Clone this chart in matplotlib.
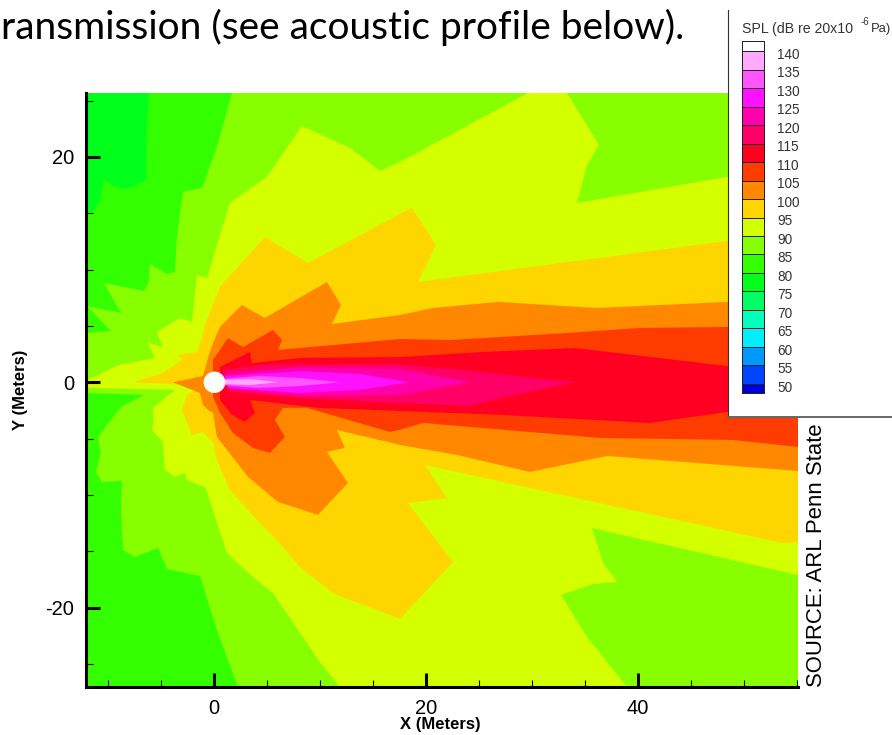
import matplotlib
matplotlib.use("Agg")
import matplotlib.pyplot as plt
from matplotlib.colors import ListedColormap, BoundaryNorm
from matplotlib.patches import Ellipse

plt.rcParams['font.family'] = ['Liberation Sans', 'DejaVu Sans']
plt.rcParams['axes.unicode_minus'] = False

# SPL legend
spl_edges = [47.5, 50, 55, 60, 65, 70, 75, 80, 85, 90, 95, 100, 105, 110, 115,
             120, 125, 130, 135, 140, 142.7]
spl_colors = ['#0000dd', '#0044ff', '#0099ff', '#00eeff', '#00ffbb', '#00ff66',
              '#00ff1a', '#33ff00', '#88ff00', '#d4ff00', '#ffd500', '#ff8800',
              '#ff3c00', '#ff0022', '#ff0066', '#ff00aa', '#ff11ff', '#ff55ff',
              '#ffaaff', '#ffffff']
spl_labels = [50, 55, 60, 65, 70, 75, 80, 85, 90, 95, 100, 105, 110, 115, 120,
              125, 130, 135, 140]

# Contour bands in metres, each outline holds everything louder than its level
band_75_x = [-12.07, -6.13, -6.32, -6.42, -7.64, -8.58, -9.62, -10.38, -10.75, -11.42, -12.07]
band_75_y = [25.67, 25.67, 23.0, 17.95, 17.33, 17.15, 17.5, 17.95, 16.17, 15.11, 14.85]

band_85_x = [1.7, 0.28, -1.13, -2.92, -3.49, -3.68, -4.43, -6.04, -6.13, -6.6, -10.38, -8.77,
             -11.98, -9.72, -12.07, -12.07, -6.6, -8.77, -10.09, -10.94, -10.66, -11.13,
             -10.57, -8.68, -8.77, -8.58, -7.45, -5.28, -4.43, -1.32, 0.28, 2.26, 55.1, 55.1]
band_85_y = [25.67, 20.88, 17.24, 16.9, 12.89, 9.79, 9.61, 10.5, 8.9, 8.1, 8.81, 6.15,
             6.77, 4.55, 4.37, -0.95, -1.12, -2.19, -3.79, -4.94, -6.18, -7.96,
             -8.85, -8.76, -11.6, -14.88, -15.5, -14.7, -16.57, -17.19, -21.98, -27.04, -27.04, 25.67]

band_90_x = [-11.98, -8.96, -5.57, -6.23, -4.81, -5.38, -3.21, -2.08, -1.6, -0.66, 1.51, 5.0,
             8.3, 12.83, 15.66, 17.55, 29.62, 33.3, 36.32, 35.19, 34.25, 48.4, 55.1,
             55.1, 35.66, 36.7, 38.02, 35.75, 32.74, 35.19, 38.96, 11.89, 10.0, 5.57, 3.68,
             1.23, -0.57, -0.85, -2.55, -2.74, -3.68, -4.62, -4.81, -5.85, -5.66, -5.75,
             -3.68, -11.98]
band_90_y = [0.2, 1.54, 2.16, 3.49, 3.13, 4.46, 5.71, 5.35, 9.52, 9.25, 15.91, 18.22,
             22.74, 20.79, 18.75, 19.55, 25.67, 25.67, 21.06, 19.28, 15.91, 18.22, 19.73,
             -17.1, -12.93, -16.03, -17.72, -17.9, -18.87, -22.6, -27.04, -27.04, -24.82, -18.7, -17.28,
             -15.15, -10.0, -9.29, -8.67, -8.05, -8.4, -7.78, -5.3, -4.23, -3.35, -2.28,
             -0.68, -0.5]

band_95_x = [-7.55, -4.81, -3.02, -3.4, -1.6, -1.04, -0.85, 0.57, 4.81, 8.87, 17.55, 18.68,
             20.94, 19.25, 48.4, 55.1, 55.1, 53.68, 19.91, 21.98, 18.3, 22.55, 17.55, 12.83,
             11.23, 8.11, 5.94, 4.06, 1.51, 0.28, -0.09, -1.04, -2.08, -2.55, -3.02, -2.55,
             -1.42, -3.96]
band_95_y = [0, 0.83, 1.98, 2.42, 2.69, 4.2, 5.08, 8.46, 12.89, 10.59, 14.93, 15.47,
             12.18, 8.9, 12.54, 13.34, -14.17, -14.26, -7.34, -10.27, -10.71, -15.95, -21.0, -19.32,
             -18.7, -16.39, -13.99, -12.22, -9.56, -6.89, -5.38, -4.41, -4.68, -3.61, -2.46, -1.13,
             -0.51, -0.15]

band_100_x = [-3.87, -1.04, -0.47, -0.09, 0.57, 2.64, 4.81, 10.66, 11.98, 11.13, 17.55, 20.66,
              26.79, 36.13, 48.4, 55.1, 55.1, 37.08, 29.81, 22.92, 17.55, 11.6, 12.36, 10.66,
              12.64, 9.81, 6.04, 3.21, 0.28, -0.09, -0.57, -1.04, -1.32]
band_100_y = [0, 0.56, 2.42, 3.49, 4.91, 6.86, 5.71, 8.9, 6.86, 5.17, 5.97, 6.59,
              7.13, 6.59, 7.13, 7.48, -7.87, -6.54, -7.96, -6.45, -5.56, -4.23, -5.83, -6.18,
              -8.93, -11.77, -10.62, -8.4, -4.85, -2.72, -2.46, -2.0, -0.95]

band_105_x = [-0.09, 1.32, 2.74, 5.57, 6.42, 6.04, 17.55, 22.26, 33.3, 40.19, 48.4, 55.1,
              55.1, 48.96, 36.42, 19.72, 17.55, 16.6, 8.77, 6.51, 5.75, 6.7, 5.28, 3.68,
              1.79, 0.57, -0.09]
band_105_y = [1.98, 3.93, 3.13, 4.64, 3.75, 2.87, 3.84, 3.75, 4.37, 4.82, 4.91, 5.08,
              -5.74, -5.12, -4.94, -3.61, -4.22, -4.41, -2.27, -2.27, -3.34, -4.85, -6.27, -5.83,
              -4.5, -2.72, -1.3]

band_110_x = [0.57, 3.4, 3.58, 8.11, 17.55, 25.38, 34.06, 48.4, 55.1, 55.1, 48.4, 41.13,
              26.98, 17.55, 9.72, 3.4, 3.87, 2.92, 1.7, 0.57]
band_110_y = [1.36, 2.69, 1.71, 2.16, 2.24, 2.69, 3.04, 1.45, 0.65, -2.0, -2.64, -3.61,
              -2.89, -2.55, -2.27, -1.57, -2.72, -3.52, -2.89, -1.57]

band_115_x = [0.75, 5.0, 17.55, 25.09, 34.06, 26.98, 24.15, 17.55, 8.11, 1.51]
band_115_y = [1.09, 1.54, 1.62, 0.91, 0, -1.39, -2.1, -1.84, -1.39, -0.86]

band_120_x = [1.04, 8.11, 17.55, 24.15, 17.55, 8.11, 1.51]
band_120_y = [0.74, 1.36, 1.18, 0, -1.13, -1.21, -0.59]

band_125_x = [1.04, 8.11, 13.77, 18.49, 13.77, 8.11, 1.32]
band_125_y = [0.56, 1.0, 0.74, 0, -0.68, -0.95, -0.51]

band_130_x = [0.75, 4.34, 8.11, 11.89, 8.11, 4.34, 0.75]
band_130_y = [0.29, 0.56, 0.38, 0, -0.33, -0.51, -0.24]

band_135_x = [0.57, 3.4, 6.04, 3.4, 0.57]
band_135_y = [0.2, 0.29, 0, -0.24, -0.15]

bands = [
    (band_75_x, band_75_y, '#00ff1a'),
    (band_85_x, band_85_y, '#88ff00'),
    (band_90_x, band_90_y, '#d4ff00'),
    (band_95_x, band_95_y, '#ffd500'),
    (band_100_x, band_100_y, '#ff8800'),
    (band_105_x, band_105_y, '#ff3c00'),
    (band_110_x, band_110_y, '#ff0022'),
    (band_115_x, band_115_y, '#ff0066'),
    (band_120_x, band_120_y, '#ff00aa'),
    (band_125_x, band_125_y, '#ff11ff'),
    (band_130_x, band_130_y, '#ff55ff'),
    (band_135_x, band_135_y, '#ffaaff'),
]

W, H = 892, 735
fig = plt.figure(figsize=(W / 100, H / 100), dpi=100, facecolor='white')


def px_rect(left, top, right, bottom):
    return [left / W, 1 - bottom / H, (right - left) / W, (bottom - top) / H]


ax = fig.add_axes(px_rect(86, 93, 798, 687), facecolor='#33ff00')
for bx, by, col in bands:
    ax.fill(bx, by, color=col, lw=0)

# the source sits at the origin
ax.add_patch(Ellipse((0.05, 0), 2.05, 1.9, color='white', lw=0, zorder=5))

ax.set_xlim(-12.07, 55.1)
ax.set_ylim(-27.04, 25.67)
ax.spines['top'].set_visible(False)
ax.spines['right'].set_visible(False)
ax.spines['left'].set_linewidth(2.2)
ax.spines['bottom'].set_linewidth(2.2)
ax.set_xticks([0, 20, 40])
ax.set_xticks([-10, -5, 5, 10, 15, 25, 30, 35, 45, 50, 55], minor=True)
ax.set_yticks([-20, 0, 20])
ax.set_yticks([-25, -15, -10, -5, 5, 10, 15, 25], minor=True)
ax.tick_params(which='major', direction='in', length=10, width=2.2, labelsize=14.5, pad=8.5)
ax.tick_params(which='minor', direction='in', length=5, width=0.8)

fig.text(440 / W, 1 - 724 / H, 'X (Meters)', fontsize=12, fontweight='bold',
         ha='center', va='center')
fig.text(21 / W, 1 - 390 / H, 'Y (Meters)', fontsize=12, fontweight='bold',
         rotation=90, ha='center', va='center')
fig.text(817 / W, 1 - 687 / H, 'SOURCE: ARL Penn State', fontsize=15.9, rotation=90,
         ha='center', va='bottom')
fig.text(1 / W, 1 - 39 / H, 'ransmission (see acoustic profile below).', fontsize=28,
         family='Lato', ha='left', va='baseline')

# legend box, drawn over the top right of the plot
leg = fig.add_axes(px_rect(728, 10, 893, 416.5), facecolor='white', zorder=10)
leg.set_xlim(728, 893)
leg.set_ylim(41.2, 151.1)
leg.spines['top'].set_visible(False)
leg.spines['right'].set_visible(False)
leg.spines['left'].set_color('#333333')
leg.spines['bottom'].set_color('#666666')
leg.spines['bottom'].set_linewidth(1.4)
leg.set_xticks([])
leg.set_yticks([])
norm = BoundaryNorm(spl_edges, len(spl_colors))
leg.pcolormesh([742, 764], spl_edges, [[v] for v in spl_edges[:-1]],
               cmap=ListedColormap(spl_colors), norm=norm,
               edgecolors='#222222', linewidth=0.7)
for val in spl_labels:
    leg.text(777, val - 1, str(val), fontsize=9.8, color='#333333', va='center')

fig.text(742 / W, 1 - 29 / H, 'SPL (dB re 20x10', fontsize=10.2, color='#333333', va='center',
         zorder=11)
fig.text(861 / W, 1 - 22 / H, '-6', fontsize=7, color='#333333', va='center', zorder=11)
fig.text(871 / W, 1 - 29 / H, 'Pa)', fontsize=9.4, color='#333333', va='center', zorder=11)

fig.savefig('out.png', dpi=100)
